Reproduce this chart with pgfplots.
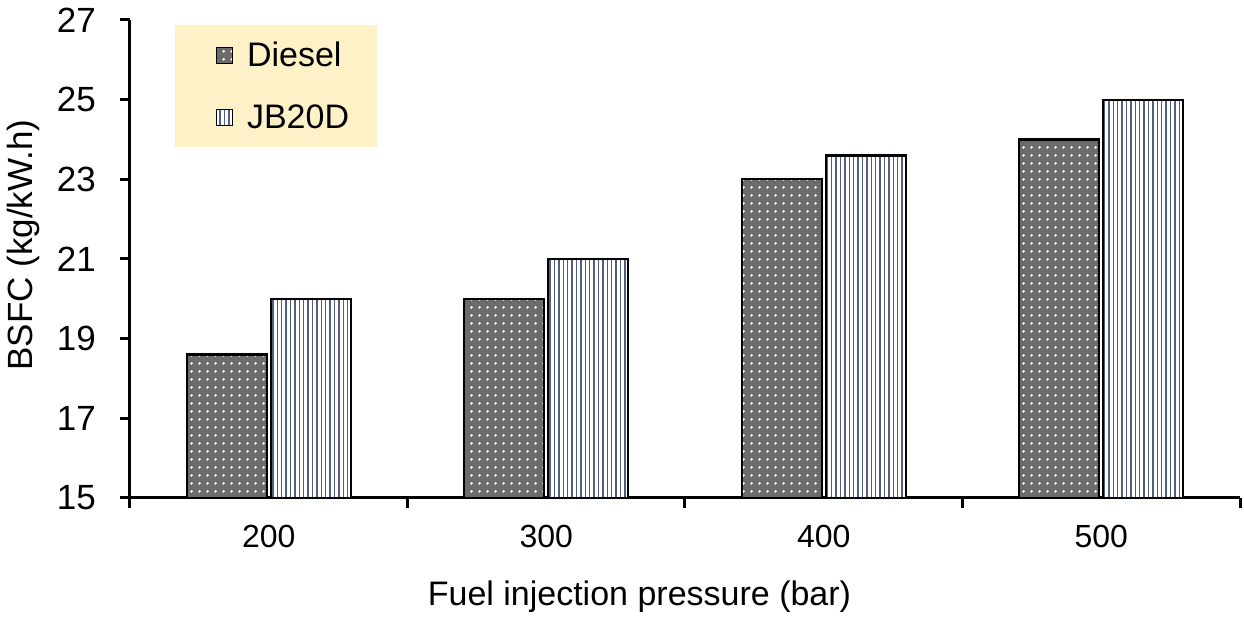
\documentclass[border=0pt]{standalone}
\usepackage{pgfplots}
\pgfplotsset{compat=1.18}
\usepackage{fontspec}
\setmainfont{Liberation Sans}
\usetikzlibrary{patterns.meta}
\definecolor{legbg}{RGB}{253,241,200}
\definecolor{linesblue}{RGB}{80,95,130}
\begin{document}
\begin{tikzpicture}
\begin{axis}[
  name=ax,
  scale only axis,
  width=555pt, height=239pt,
  xmin=-0.5, xmax=3.5,
  ymin=15, ymax=27,
  ytick={15,17,...,27},
  xtick={0,1,2,3},
  xticklabels={200,300,400,500},
  minor xtick={-0.5,0.5,1.5,2.5,3.5},
  major x tick style={draw=none},
  axis lines=left,
  axis line style={line width=1.5pt, -},
  tick style={line width=1.5pt, black},
  tick align=outside,
  major tick length=5pt, minor tick length=5pt,
  ybar, bar width=0.288,
  font=\fontsize{17}{20}\selectfont,
  /pgf/number format/assume math mode=true,
  xticklabel style={yshift=-5pt, font=\fontsize{16}{19}\selectfont},
  yticklabel style={xshift=-8.5pt, font=\fontsize{17.5}{20}\selectfont},
  xlabel={Fuel injection pressure (bar)},
  ylabel={BSFC (kg/kW.h)},
  xlabel style={at={(axis description cs:0.459,-0.207)}, anchor=center},
  ylabel style={at={(axis description cs:-0.0964,0.529)}, anchor=center, font=\fontsize{17.5}{20}\selectfont},
  legend style={at={(axis description cs:0.0405,0.9895)}, anchor=north west,
    fill=legbg, draw=none, inner xsep=12pt, inner ysep=6pt,
    row sep=13.7pt, column sep=5pt, font=\fontsize{17}{20}\selectfont},
  legend cell align=left,
  legend image code/.code={\path (0pt,0pt); \draw[#1, line width=0.6pt] (8pt,-4pt) rectangle (16pt,4pt);},
]
\addplot[draw=black, line width=1.1pt, fill=black!58,
  postaction={pattern={Dots[distance=4pt, radius=0.8pt]}, pattern color=white}]
  coordinates {(0,18.6) (1,20) (2,23) (3,24)};
\addplot[draw=black, line width=1.1pt, fill=white,
  postaction={pattern={Lines[angle=90, distance=2.2pt, line width=0.7pt]}, pattern color=linesblue}]
  coordinates {(0,20) (1,21) (2,23.6) (3,25)};
\legend{Diesel, JB20D}
\end{axis}
\pgfresetboundingbox
\path[use as bounding box] ([shift={(-65pt,-60.5pt)}]ax.south west) rectangle ([shift={(557pt,249pt)}]ax.south west);
\end{tikzpicture}
\end{document}
